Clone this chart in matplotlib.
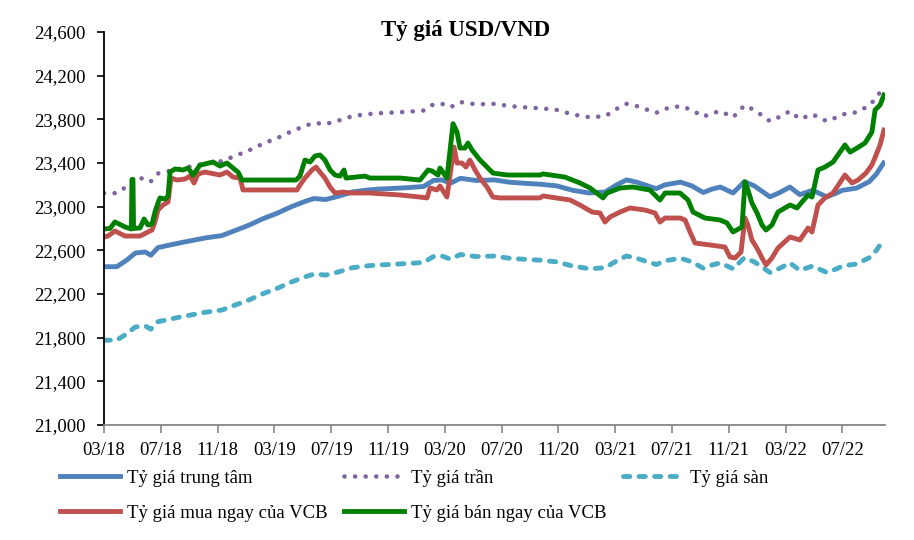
import matplotlib.pyplot as plt
from matplotlib.ticker import FuncFormatter

# x = months since 03/2018
month_ticks = [0, 4, 8, 12, 16, 20, 24, 28, 32, 36, 40, 44, 48, 52]
tick_labels = ["03/18", "07/18", "11/18", "03/19", "07/19", "11/19", "03/20",
               "07/20", "11/20", "03/21", "07/21", "11/21", "03/22", "07/22"]

t_central = [0, 0.9, 1.6, 2.2, 2.9, 3.3, 3.8, 4.5, 5.6, 7.2, 8.3, 9.2, 10.2, 11.2, 12.2,
             13.2, 14.2, 14.8, 15.6, 16.5, 17.5, 18.4, 19.2, 20.5, 21.5, 22.5, 23.2, 23.8,
             24.4, 25.1, 26.2, 27.5, 28.5, 29.5, 30.8, 31.9, 33.0, 34.2, 35.3, 36.1, 36.8,
             37.5, 38.3, 38.9, 39.5, 40.6, 41.4, 42.2, 42.8, 43.4, 44.3, 45.1, 45.8, 46.9,
             47.6, 48.3, 49.0, 49.9, 50.9, 51.5, 52.0, 53.0, 53.9, 54.4, 54.9]
central = [22450, 22450, 22510, 22575, 22585, 22555, 22625, 22645, 22675, 22715, 22735,
           22780, 22830, 22890, 22940, 23000, 23050, 23075, 23065, 23095, 23135, 23150,
           23160, 23168, 23175, 23185, 23240, 23245, 23215, 23260, 23240, 23245, 23225,
           23215, 23205, 23190, 23150, 23125, 23135, 23200, 23245, 23225, 23190, 23165,
           23200, 23225, 23190, 23130, 23160, 23180, 23125, 23230, 23190, 23090, 23130,
           23180, 23110, 23150, 23090, 23120, 23150, 23170, 23230, 23300, 23400]
ceiling = [23124, 23124, 23185, 23252, 23263, 23232, 23304, 23324, 23355, 23396, 23417,
           23463, 23515, 23577, 23628, 23690, 23742, 23767, 23757, 23788, 23829, 23845,
           23855, 23863, 23870, 23881, 23937, 23942, 23911, 23958, 23937, 23942, 23922,
           23911, 23901, 23886, 23845, 23819, 23829, 23896, 23942, 23922, 23886, 23860,
           23896, 23922, 23886, 23824, 23855, 23875, 23819, 23927, 23886, 23783, 23824,
           23875, 23803, 23845, 23783, 23814, 23845, 23865, 23927, 23999, 24102]
floor = [21777, 21777, 21835, 21898, 21907, 21878, 21946, 21966, 21995, 22034, 22053,
         22097, 22145, 22203, 22252, 22310, 22359, 22383, 22373, 22402, 22441, 22456,
         22465, 22473, 22480, 22489, 22543, 22548, 22519, 22562, 22543, 22548, 22528,
         22519, 22509, 22494, 22456, 22431, 22441, 22504, 22548, 22528, 22494, 22470,
         22504, 22528, 22494, 22436, 22465, 22485, 22431, 22533, 22494, 22397, 22436,
         22485, 22417, 22456, 22397, 22426, 22456, 22475, 22533, 22601, 22698]

t_buy = [0, 0.28, 0.77, 1.48, 2.54, 3.10, 3.38, 3.59, 3.80, 4.15, 4.51, 4.72, 5.14, 5.70,
         6.06, 6.34, 6.62, 7.11, 7.82, 8.17, 8.66, 9.08, 9.58, 9.79, 13.59, 13.80, 14.15,
         14.65, 14.93, 15.21, 15.56, 15.92, 16.27, 16.83, 17.32, 18.73, 20.85, 22.25, 22.75,
         22.96, 23.45, 23.66, 24.15, 24.65, 24.86, 25.21, 25.49, 25.77, 26.13, 26.48, 26.97,
         27.39, 27.89, 30.70, 30.92, 32.82, 33.52, 34.37, 34.93, 35.28, 35.63, 36.34, 37.04,
         38.10, 38.80, 39.15, 39.51, 40.56, 40.92, 41.27, 41.62, 42.68, 43.73, 44.08, 44.44,
         44.86, 45.14, 45.35, 45.63, 46.06, 46.34, 46.62, 47.04, 47.46, 48.31, 49.01, 49.58,
         49.86, 50.28, 50.77, 51.34, 52.18, 52.68, 53.10, 53.66, 54.08, 54.37, 54.65, 54.93]
buy = [22722, 22731, 22777, 22731, 22731, 22768, 22786, 22859, 22969, 23015, 23043, 23262,
       23244, 23253, 23281, 23217, 23299, 23317, 23299, 23290, 23317, 23271, 23262, 23153,
       23153, 23198, 23262, 23336, 23363, 23317, 23262, 23180, 23125, 23134, 23125, 23125,
       23107, 23088, 23080, 23171, 23153, 23189, 23088, 23546, 23400, 23400, 23363, 23427,
       23336, 23262, 23180, 23088, 23080, 23080, 23098, 23061, 23015, 22951, 22942, 22859,
       22905, 22951, 22988, 22969, 22942, 22859, 22896, 22896, 22878, 22768, 22667, 22649,
       22630, 22539, 22530, 22585, 22896, 22832, 22695, 22603, 22530, 22466, 22530, 22621,
       22722, 22695, 22805, 22768, 23015, 23080, 23125, 23290, 23217, 23244, 23308, 23382,
       23473, 23565, 23702]

t_sell = [0, 0.42, 0.77, 1.48, 1.93, 1.97, 2.04, 2.08, 2.54, 2.82, 3.10, 3.38, 3.59, 3.80,
          3.94, 4.30, 4.51, 4.65, 5.00, 5.56, 5.92, 6.27, 6.76, 7.68, 8.17, 8.66, 9.08, 9.44,
          9.72, 13.52, 13.80, 14.15, 14.51, 14.86, 15.21, 15.56, 15.92, 16.27, 16.62, 16.90,
          17.04, 18.38, 18.73, 20.85, 22.25, 22.82, 23.10, 23.52, 23.66, 24.15, 24.58, 24.86,
          25.07, 25.42, 25.63, 25.92, 26.48, 26.97, 27.39, 28.38, 30.70, 30.92, 32.46, 33.52,
          34.23, 35.14, 35.42, 36.34, 37.25, 38.45, 39.15, 39.51, 40.56, 41.13, 41.48, 42.32,
          43.38, 43.87, 44.30, 44.93, 45.14, 45.35, 45.63, 45.99, 46.34, 46.62, 47.04, 47.46,
          48.31, 48.80, 49.58, 49.86, 50.28, 50.77, 51.34, 52.18, 52.54, 53.03, 53.59, 54.08,
          54.30, 54.65, 54.93]
sell = [22796, 22800, 22860, 22814, 22795, 23250, 23250, 22800, 22805, 22887, 22832, 22841,
        22951, 23033, 23080, 23070, 23098, 23317, 23345, 23336, 23354, 23290, 23380, 23409,
        23372, 23400, 23354, 23317, 23244, 23244, 23280, 23427, 23409, 23464, 23473, 23427,
        23336, 23290, 23280, 23336, 23262, 23280, 23262, 23262, 23244, 23336, 23327, 23290,
        23354, 23262, 23760, 23684, 23537, 23537, 23583, 23519, 23427, 23363, 23308, 23290,
        23290, 23300, 23271, 23217, 23171, 23080, 23125, 23171, 23180, 23152, 23061, 23125,
        23125, 23061, 22951, 22896, 22878, 22851, 22768, 22814, 23226, 23153, 23033, 22942,
        22832, 22786, 22832, 22951, 23015, 22988, 23107, 23088, 23336, 23363, 23409, 23565,
        23500, 23537, 23583, 23684, 23885, 23931, 24023]

plt.rcParams["font.family"] = ["Liberation Serif", "DejaVu Serif"]
plt.rcParams["font.size"] = 13.5

fig = plt.figure(figsize=(9.14, 5.4), dpi=100)
ax = fig.add_axes([104 / 914, 1 - 425 / 540, (885 - 104) / 914, (425 - 32) / 540])

l1, = ax.plot(t_central, central, color="#4F81BD", lw=3.5, solid_joinstyle="round",
              label="Tỷ giá trung tâm")
l2, = ax.plot(t_central, ceiling, color="#8064A2", lw=3.3, linestyle=(0, (0.01, 2.3)),
              dash_capstyle="round", label="Tỷ giá trần")
l3, = ax.plot(t_central, floor, color="#4BACC6", lw=3.5, linestyle=(0, (1.3, 1.9)),
              dash_capstyle="round", label="Tỷ giá sàn")
l4, = ax.plot(t_buy, buy, color="#C0504D", lw=3.5, solid_joinstyle="round",
              label="Tỷ giá mua ngay của VCB")
l5, = ax.plot(t_sell, sell, color="#008000", lw=3.5, solid_joinstyle="round",
              label="Tỷ giá bán ngay của VCB")

ax.set_xlim(0, 55)
ax.set_ylim(21000, 24600)
ax.set_yticks(range(21000, 24601, 400))
ax.yaxis.set_major_formatter(FuncFormatter(lambda v, p: "{:,.0f}".format(v)))
ax.set_xticks(month_ticks)
ax.set_xticklabels(tick_labels)

ax.spines["top"].set_visible(False)
ax.spines["right"].set_visible(False)
ax.spines["left"].set_color("black")
ax.spines["left"].set_linewidth(1.3)
ax.spines["bottom"].set_color("#868686")
ax.spines["bottom"].set_linewidth(1.3)
ax.tick_params(axis="y", direction="out", length=5, width=1.2, color="black", pad=8)
ax.tick_params(axis="x", direction="out", length=6, width=1.2, color="#868686", pad=6)

fig.text(466 / 914, 1 - 31 / 540, "Tỷ giá USD/VND", ha="center", va="center",
         fontsize=16.5, fontweight="bold")

fig.legend([l1, l4, l2, l5, l3], [l1.get_label(), l4.get_label(), l2.get_label(),
           l5.get_label(), l3.get_label()],
           loc="upper left", bbox_to_anchor=(60 / 914, 1 - 469 / 540), ncol=3,
           frameon=False, borderpad=0, borderaxespad=0, handlelength=3.2,
           handletextpad=0.35, columnspacing=0.9, labelspacing=0.95)

fig.savefig("out.png", dpi=100)
